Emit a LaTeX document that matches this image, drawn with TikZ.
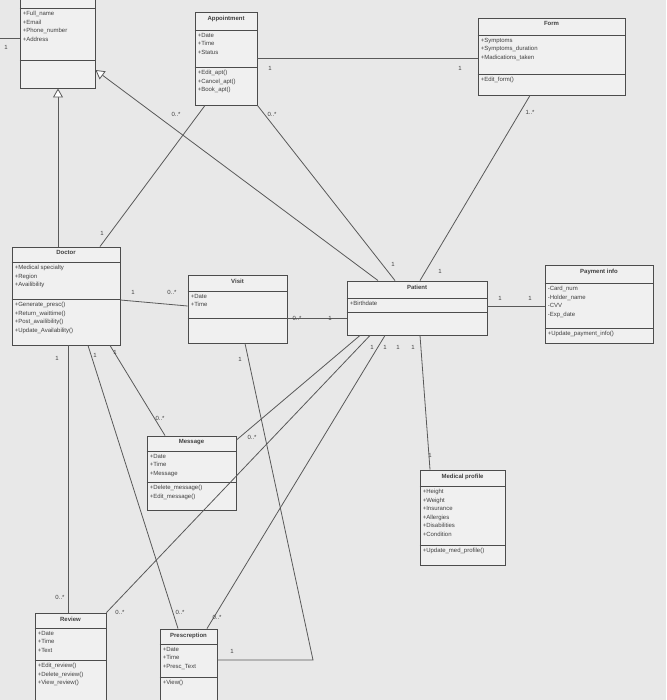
\documentclass[tikz,border=0pt]{standalone}
\usepackage{fontspec}
\setmainfont{Liberation Sans}
\usetikzlibrary{fit,arrows.meta}
\tikzset{
  box/.style={draw=black!70, line width=0.9pt, fill=black!6, inner sep=0pt},
  sepline/.style={draw=black!70, line width=0.9pt},
  ttl/.style={font=\fontsize{6}{6.5}\selectfont\bfseries, text=black!75, inner sep=0pt, anchor=north},
  txt/.style={font=\fontsize{6}{8.6}\selectfont, text=black!75, align=left, inner sep=0pt, anchor=north west},
  conn/.style={draw=black!65, line width=0.8pt},
  gen/.style={conn, -{Triangle[open, length=9pt, width=10pt, fill=white]}},
  mult/.style={font=\fontsize{6}{6.5}\selectfont, text=black!75, inner sep=0.5pt}
}
\newcommand\umlbox[8]{%
  \node[box, fit={(#2)(#3)}] (#1) {};
  \draw[sepline] (#1.west |- 0,#4) -- (#1.east |- 0,#4);
  \draw[sepline] (#1.west |- 0,#5) -- (#1.east |- 0,#5);
  \node[ttl] (#1t) at ([yshift=-4pt]#1.north) {#6};
  \node[txt] (#1a) at ([xshift=3pt,yshift=-3pt]#1.west |- 0,#4) {#7};
  \node[txt] (#1m) at ([xshift=3pt,yshift=-3pt]#1.west |- 0,#5) {#8};
}
\begin{document}
\begin{tikzpicture}[x=1pt,y=-1pt]
\useasboundingbox (0,0) rectangle (666,700);
\clip (0,0) rectangle (666,700);
\fill[black!9] (0,0) rectangle (666,700);

\umlbox{user}{20,-15}{95,88}{8}{60}{}{+Full\_name\\+Email\\+Phone\_number\\+Address}{}
\umlbox{appt}{195,12}{257,105}{30}{67}{Appointment}{+Date\\+Time\\+Status}{+Edit\_apt()\\+Cancel\_apt()\\+Book\_apt()}
\umlbox{form}{478,18}{625,95}{35}{74}{Form}{+Symptoms\\+Symptoms\_duration\\+Madications\_taken}{+Edit\_form()}
\umlbox{doc}{12,247}{120,345}{262}{299}{Doctor}{+Medical specialty\\+Region\\+Availibility}{+Generate\_presc()\\+Return\_waittime()\\+Post\_availibility()\\+Update\_Availability()}
\umlbox{visit}{188,275}{287,343}{291}{318}{Visit}{+Date\\+Time}{}
\umlbox{pat}{347,281}{487,335}{298}{312}{Patient}{+Birthdate}{}
\umlbox{pay}{545,265}{653,343}{283}{328}{Payment info}{-Card\_num\\-Holder\_name\\-CVV\\-Exp\_date}{+Update\_payment\_info()}
\umlbox{msg}{147,436}{236,510}{451}{482}{Message}{+Date\\+Time\\+Message}{+Delete\_message()\\+Edit\_message()}
\umlbox{med}{420,470}{505,565}{486}{545}{Medical profile}{+Height\\+Weight\\+Insurance\\+Allergies\\+Disabilities\\+Condition}{+Update\_med\_profile()}
\umlbox{rev}{35,613}{106,720}{628}{660}{Review}{+Date\\+Time\\+Text}{+Edit\_review()\\+Delete\_review()\\+View\_review()}
\umlbox{pre}{160,629}{217,720}{644}{677}{Prescreption}{+Date\\+Time\\+Presc\_Text}{+View()}

\coordinate (uleft) at (0,38);
\coordinate (bend) at (313,660);

% connectors
\draw[conn] (user.west |- uleft) -- (uleft);
\draw[gen] (doc.north -| 58,0) -- (user.south -| 58,0);
\draw[gen] (pat.north -| 378,0) -- (user.east |- 0,70);
\draw[conn] (doc.north -| 100,0) -- (appt.south -| 205,0);
\draw[conn] (pat.north -| 395,0) -- (appt.south east);
\draw[conn] (pat.north -| 420,0) -- (form.south -| 530,0);
\draw[conn] (appt.east |- 0,58) -- (form.west |- 0,58);
\draw[conn] (doc.east |- 0,300) -- (visit.west |- 0,306);
\draw[conn] (visit.east |- 0,318) -- (pat.west |- 0,318);
\draw[conn] (pat.east |- 0,306) -- (pay.west |- 0,306);
\draw[conn] (doc.south -| 68,0) -- (rev.north -| 68,0);
\draw[conn] (doc.south -| 88,0) -- (pre.north -| 178,0);
\draw[conn] (doc.south -| 110,0) -- (msg.north -| 165,0);
\draw[conn] (visit.south -| 245,0) -- (bend) -- (pre.east |- bend);
\draw[conn] (pat.south -| 360,0) -- (msg.east |- 0,440);
\draw[conn] (pat.south -| 370,0) -- (rev.north east);
\draw[conn] (pat.south -| 385,0) -- (pre.north -| 207,0);
\draw[conn] (pat.south -| 420,0) -- (med.north -| 430,0);

% multiplicities
\node[mult] (m1) at (6,47) {1};
\node[mult] (m2) at (270,68) {1};
\node[mult] (m3) at (460,68) {1};
\node[mult] (m4) at (102,233) {1};
\node[mult] (m5) at (176,114) {0..*};
\node[mult] (m6) at (272,114) {0..*};
\node[mult] (m7) at (393,264) {1};
\node[mult] (m8) at (530,112) {1..*};
\node[mult] (m9) at (440,271) {1};
\node[mult] (m10) at (133,292) {1};
\node[mult] (m11) at (172,292) {0..*};
\node[mult] (m12) at (297,318) {0..*};
\node[mult] (m13) at (330,318) {1};
\node[mult] (m14) at (500,298) {1};
\node[mult] (m15) at (530,298) {1};
\node[mult] (m16) at (57,358) {1};
\node[mult] (m17) at (95,355) {1};
\node[mult] (m18) at (115,352) {1};
\node[mult] (m19) at (240,359) {1};
\node[mult] (m20) at (372,347) {1};
\node[mult] (m21) at (385,347) {1};
\node[mult] (m22) at (398,347) {1};
\node[mult] (m23) at (413,347) {1};
\node[mult] (m24) at (160,418) {0..*};
\node[mult] (m25) at (252,437) {0..*};
\node[mult] (m26) at (430,455) {1};
\node[mult] (m27) at (60,597) {0..*};
\node[mult] (m28) at (120,612) {0..*};
\node[mult] (m29) at (180,612) {0..*};
\node[mult] (m30) at (217,617) {0..*};
\node[mult] (m31) at (232,651) {1};
\end{tikzpicture}
\end{document}
